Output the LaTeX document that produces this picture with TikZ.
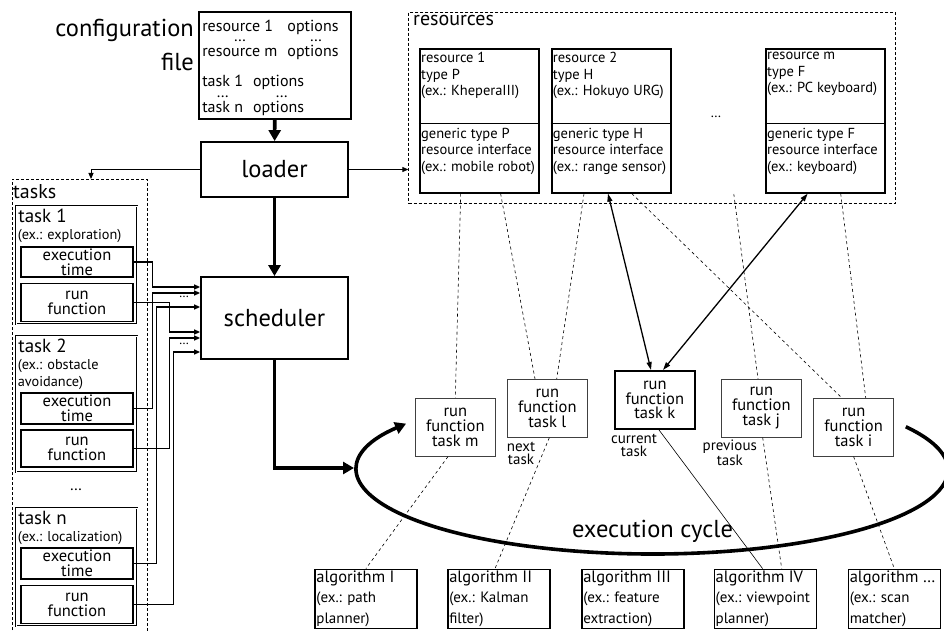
\documentclass[tikz,border=0pt]{standalone}
\usepackage{fontspec}
\setmainfont{PT Sans}
\usetikzlibrary{arrows.meta,positioning}

\newcommand{\fs}[2]{\fontsize{#1}{#2}\selectfont}

\begin{document}
\begin{tikzpicture}[
    x = 1pt, y = -1pt, % one unit per pixel, y grows downwards
    > = {Triangle[length=6pt,width=5pt]}, % arrow head style
    line join = miter,
    bigarrow/.style = {-{Triangle[length=11pt,width=12pt]}, line width=3.6pt},
    feed/.style = {->, line width=1.3pt},
    access/.style = {{Triangle[length=8pt,width=5pt]}-{Triangle[length=8pt,width=5pt]}, line width=1.3pt},
    link/.style = {dash pattern=on 3pt off 3pt, line width=0.6pt},
    dashframe/.style = {draw, dash pattern=on 3pt off 2pt, line width=0.7pt},
    mainbox/.style = {draw, line width=1.8pt, minimum width=147pt, font=\fs{24.5}{26}}
    ]

    \tikzset{
    taskbox/.style = {draw, double, double distance=0.9pt, line width=0.7pt, minimum width=121pt},
    innerbox/.style = {draw, line width=1.1pt, minimum width=112pt, align=center, inner sep=0pt, font=\fs{16.5}{15}},
    resbox/.style = {draw, line width=1.8pt, minimum width=119pt, minimum height=143.4pt},
    restext/.style = {anchor=north west, align=left, inner sep=0pt, font=\fs{14.5}{16.7}},
    runbox/.style = {draw=black!75, line width=0.8pt, minimum width=80pt, minimum height=58pt, align=center, inner sep=0pt, font=\fs{16.5}{14.8}},
    tasknote/.style = {align=center, inner sep=0pt, font=\fs{15}{13}},
    algbox/.style = {draw, line width=1.4pt, minimum width=102pt, minimum height=59pt},
    algtext/.style = {anchor=north west, align=left, inner sep=0pt, font=\fs{15}{20.5}}
    }

    \useasboundingbox (0,0) rectangle (944,631);
    \clip (0,0) rectangle (944,631);

    % configuration file, loader, scheduler
    \node[draw, line width=1.8pt, minimum width=152pt, minimum height=107pt] (cfg) at (275,65.5) {};
    \node[anchor=base west, inner sep=0pt, font=\fs{16}{13}] (cfgres) at ([shift={(4pt,-20pt)}]cfg.north west)
        {\begin{tabular}[t]{@{}l@{\hspace{10pt}}l@{}}resource 1 & options\\[-2.5pt]
        \multicolumn{1}{@{}c@{\hspace{10pt}}}{\ldots} & \multicolumn{1}{c@{}}{\ldots}\\
        resource m & options\end{tabular}};
    \node[anchor=base west, inner sep=0pt, font=\fs{16}{13}] (cfgtask) at ([shift={(4pt,-75.5pt)}]cfg.north west)
        {\begin{tabular}[t]{@{}l@{\hspace{10pt}}l@{}}task 1 & options\\[-2.5pt]
        \multicolumn{1}{@{}c@{\hspace{10pt}}}{\ldots} & \multicolumn{1}{c@{}}{\ldots}\\
        task n & options\end{tabular}};
    \node[anchor=north east, align=right, inner sep=0pt, font=\fs{24.5}{34}] (cfglabel) at ([shift={(-4pt,-8pt)}]cfg.north west) {configuration\\file};

    \node[mainbox, minimum height=55pt] (loader) at (274.5,169.5) {loader};
    \node[mainbox, minimum height=82pt] (sched) at (274.5,318) {scheduler};

    \draw[bigarrow] (cfg) -- (loader);
    \draw[bigarrow] (loader) -- (sched);

    % tasks
    \draw[dashframe] (12,640) |- (147,179) -- (147,640);
    \node[anchor=west, inner sep=0pt, font=\fs{20}{22}] (tasklabel) at (13,192) {tasks};
    \coordinate (taskstop) at (91,179);
    \draw[->, line width=1pt] (loader.west) -| (taskstop);

    \node[taskbox, minimum height=118pt] (t1) at (76.5,265) {};
    \node[anchor=north west, inner sep=0pt, font=\fs{19}{20}] (t1name) at ([shift={(2.5pt,-3pt)}]t1.north west) {task 1};
    \node[anchor=north west, inner sep=0pt, align=left, font=\fs{14.3}{17}] (t1ex) at ([shift={(2pt,-23pt)}]t1.north west) {(ex.: exploration)};
    \node[innerbox, minimum height=30pt] (t1exec) at (77,262) {execution\\time};
    \node[innerbox, minimum height=38pt] (t1run) at (77,302.5) {run\\function};

    \node[taskbox, minimum height=136pt] (t2) at (76.5,404) {};
    \node[anchor=north west, inner sep=0pt, font=\fs{19}{20}] (t2name) at ([shift={(2.5pt,-3pt)}]t2.north west) {task 2};
    \node[anchor=north west, inner sep=0pt, align=left, font=\fs{14.3}{17}] (t2ex) at ([shift={(2pt,-23pt)}]t2.north west) {(ex.: obstacle\\avoidance)};
    \node[innerbox, minimum height=31pt] (t2exec) at (77,408.5) {execution\\time};
    \node[innerbox, minimum height=37pt] (t2run) at (77,448.5) {run\\function};

    \node[font=\fs{16}{16}] (taskdots) at (76,490) {\ldots};

    \node[taskbox, minimum height=118pt] (tn) at (76.5,567) {};
    \node[anchor=north west, inner sep=0pt, font=\fs{19}{20}] (tnname) at ([shift={(2.5pt,-3pt)}]tn.north west) {task n};
    \node[anchor=north west, inner sep=0pt, align=left, font=\fs{14.3}{17}] (tnex) at ([shift={(2pt,-23pt)}]tn.north west) {(ex.: localization)};
    \node[innerbox, minimum height=31pt] (tnexec) at (77,563.5) {execution\\time};
    \node[innerbox, minimum height=38pt] (tnrun) at (77,604.5) {run\\function};

    % task functions into the scheduler
    \draw[feed] (t1exec.east) -- ++(19,0) |- ([yshift=31pt]sched.west);
    \draw[feed] (t2exec.east) -- ++(19,0) |- ([yshift=25pt]sched.west);
    \draw[feed] (tnexec.east) -- ++(23,0) |- ([yshift=11pt]sched.west);
    \draw[feed] (t1run.east) -- ++(36,0) |- ([yshift=-14pt]sched.west);
    \draw[feed] (t2run.east) -- ++(36,0) |- ([yshift=-20pt]sched.west);
    \draw[feed] (tnrun.east) -- ++(40,0) |- ([yshift=-34pt]sched.west);
    \node[font=\fs{13}{13}] (feeddots1) at (184,297) {\ldots};
    \node[font=\fs{13}{13}] (feeddots2) at (184,344) {\ldots};

    % resources
    \node[dashframe, minimum width=486.8pt, minimum height=191pt] (res) at (652.1,107.8) {};
    \node[anchor=west, inner sep=0pt, font=\fs{20}{22}] (reslabel) at (413,21) {resources};
    \draw[->, line width=1pt] (loader.east) -- (loader.east -| res.west);

    \node[resbox] (res1) at (479.3,121) {};
    \draw[line width=1.2pt] ([yshift=-2.3pt]res1.west) -- ([yshift=-2.3pt]res1.east);
    \node[restext] (res1up) at ([shift={(2pt,-3.5pt)}]res1.north west) {resource 1\\type P\\(ex.: KheperaIII)};
    \node[restext] (res1low) at ([shift={(2pt,-6.8pt)}]res1.west) {generic type P\\resource interface\\(ex.: mobile robot)};

    \node[resbox] (res2) at (611.1,121) {};
    \draw[line width=1.2pt] ([yshift=-2.3pt]res2.west) -- ([yshift=-2.3pt]res2.east);
    \node[restext] (res2up) at ([shift={(2pt,-3.5pt)}]res2.north west) {resource 2\\type H\\(ex.: Hokuyo URG)};
    \node[restext] (res2low) at ([shift={(2pt,-6.8pt)}]res2.west) {generic type H\\resource interface\\(ex.: range sensor)};

    \node[resbox] (resm) at (825.3,121) {};
    \draw[line width=1.2pt] ([yshift=-2.3pt]resm.west) -- ([yshift=-2.3pt]resm.east);
    \node[restext] (resmup) at ([shift={(2pt,-3.5pt)}]resm.north west) {resource m\\type F\\(ex.: PC keyboard)};
    \node[restext] (resmlow) at ([shift={(2pt,-6.8pt)}]resm.west) {generic type F\\resource interface\\(ex.: keyboard)};

    \node[font=\fs{14}{14}] (resdots) at (716,117) {\ldots};
    \coordinate (resfoot) at (733.8,194);

    % run functions in the execution cycle
    \node[runbox] (fm) at (455.3,427.2) {run\\function\\task m};
    \node[runbox] (fl) at (547.3,408.3) {run\\function\\task l};
    \node[runbox, draw=black, line width=1.8pt] (fk) at (654.8,399.9) {run\\function\\task k};
    \node[runbox] (fj) at (761.3,408.3) {run\\function\\task j};
    \node[runbox] (fi) at (853.6,427.2) {run\\function\\task i};

    \node[tasknote] (nextnote) at (521,453) {next\\task};
    \node[tasknote] (curnote) at (634,445.3) {current\\task};
    \node[tasknote] (prevnote) at (729.8,453) {previous\\task};

    % algorithms
    \node[algbox] (alg1) at (365.9,598.8) {};
    \node[algtext] (alg1t) at ([shift={(2pt,-2pt)}]alg1.north west) {{\fs{16.5}{20.5}algorithm I}\\(ex.: path\\planner)};
    \node[algbox] (alg2) at (498.8,598.8) {};
    \node[algtext] (alg2t) at ([shift={(2pt,-2pt)}]alg2.north west) {{\fs{16.5}{20.5}algorithm II}\\(ex.: Kalman\\filter)};
    \node[algbox] (alg3) at (632.8,598.8) {};
    \node[algtext] (alg3t) at ([shift={(2pt,-2pt)}]alg3.north west) {{\fs{16.5}{20.5}algorithm III}\\(ex.: feature\\extraction)};
    \node[algbox] (alg4) at (765.2,598.8) {};
    \node[algtext] (alg4t) at ([shift={(2pt,-2pt)}]alg4.north west) {{\fs{16.5}{20.5}algorithm IV}\\(ex.: viewpoint\\planner)};
    \node[algbox, minimum width=92pt] (alg5) at (894.3,598.8) {};
    \node[algtext] (alg5t) at ([shift={(2pt,-2pt)}]alg5.north west) {{\fs{16.5}{20.5}algorithm \ldots}\\(ex.: scan\\matcher)};

    % links between resources, run functions and algorithms
    \draw[link] ([xshift=-18.6pt]res1.south) -- (fm.north);
    \draw[link] ([xshift=21.3pt]res1.south) -- ([xshift=-12.3pt]fl.north);
    \draw[link] ([xshift=-27.1pt]res2.south) -- ([xshift=9.4pt]fl.north);
    \draw[link] ([xshift=20.7pt]res2.south) -- ([xshift=-11.9pt]fi.north);
    \draw[link] (resfoot) -- ([xshift=-3.3pt]fj.north);
    \draw[link] ([xshift=15.4pt]resm.south) -- ([xshift=12.1pt]fi.north);
    \draw[access] ([xshift=-3.1pt]res2.south) -- ([xshift=-3.8pt]fk.north);
    \draw[access] ([xshift=-17.6pt]resm.south) -- ([xshift=8.2pt]fk.north);

    \draw[link] ([xshift=-7.3pt]fm.south) -- (alg1.north);
    \draw[link] ([xshift=2pt]fl.south) -- ([xshift=-3.8pt]alg2.north);
    \draw[line width=0.6pt] ([xshift=4.1pt]fk.south) -- ([xshift=-2.6pt]alg4.north);
    \draw[link] ([xshift=1.4pt]fj.south) -- ([xshift=16.5pt]alg4.north);
    \draw[link] (fi.south) -- (alg5.north);

    % execution cycle
    \coordinate (cycin) at (354,468);
    \draw[bigarrow] (sched.south) |- (cycin);
    \coordinate (cyc) at (652.5,470);
    \draw[bigarrow] (cyc) ++(-31:295.5 and 84) arc[start angle=-31, end angle=213.5, x radius=295.5, y radius=84];
    \node[font=\fs{24.5}{26}] (cyclabel) at (652.5,531) {execution cycle};

\end{tikzpicture}
\end{document}
